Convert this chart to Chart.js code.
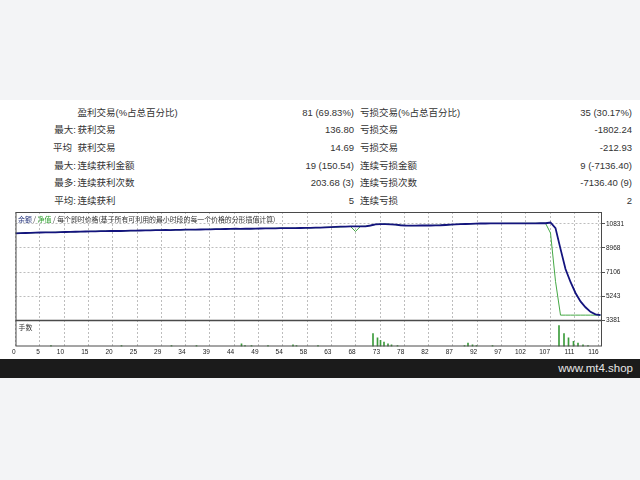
<!DOCTYPE html>
<html>
<head>
<meta charset="utf-8">
<script src="https://cdn.jsdelivr.net/npm/chart.js@4.4.1/dist/chart.umd.min.js"></script>
<style>
  html, body { margin: 0; padding: 0; }
  body { width: 640px; height: 480px; background: #f3f4f6; position: relative; overflow: hidden;
         font-family: 'Liberation Sans', 'Noto Sans CJK SC', sans-serif; }
  #sheet { position: absolute; left: 0; top: 100px; width: 640px; height: 259px; background: #fff; }
  .cell { position: absolute; white-space: pre; font-size: 9.5px; line-height: 12px; color: #333; }
  #chartBox { position: absolute; left: 0; top: 200px; width: 640px; height: 160px; }
  #footer { position: absolute; left: 0; top: 359px; width: 640px; height: 19px; background: #1b1b1b; }
  #footer span { position: absolute; right: 7px; top: 0; line-height: 19px; color: #e6e6e6; font-size: 11.5px; }
</style>
</head>
<body>
<div id="sheet"></div>
<div id="stats"></div>
<div id="chartBox"><canvas id="tester" width="640" height="160"></canvas></div>
<div id="footer"><span>www.mt4.shop</span></div>
<script>
// statistics table
const rowPrefix = ['', '最大:', '平均', '最大:', '最多:', '平均:'];
const winLabels = ['盈利交易(%占总百分比)', '获利交易', '获利交易', '连续获利金额', '连续获利次数', '连续获利'];
const winValues = ['81 (69.83%)', '136.80', '14.69', '19 (150.54)', '203.68 (3)', '5'];
const lossLabels = ['亏损交易(%占总百分比)', '亏损交易', '亏损交易', '连续亏损金额', '连续亏损次数', '连续亏损'];
const lossValues = ['35 (30.17%)', '-1802.24', '-212.93', '9 (-7136.40)', '-7136.40 (9)', '2'];

// tester graph
const xTickLabels = ['0','5','10','15','20','25','29','34','39','44','49','54','58','63','68','73','78','82','87','92','97','102','107','111','116'];
const yTickValues = [3381, 5243, 7106, 8968, 10831];

const balance = [
  10100,10112,10124,10136,10148,10160,10172,10165,10178,10190,
  10200,10210,10220,10228,10236,10244,10252,10260,10268,10276,
  10284,10278,10290,10298,10306,10314,10322,10330,10338,10346,
  10354,10350,10362,10370,10378,10386,10380,10392,10400,10408,
  10416,10424,10432,10440,10448,10440,10452,10448,10460,10468,
  10474,10480,10486,10492,10498,10494,10500,10508,10516,10524,
  10532,10540,10560,10580,10600,10612,10620,10625,10630,10635,
  10640,10700,10780,10800,10810,10790,10760,10720,10700,10690,
  10695,10700,10705,10700,10710,10720,10740,10760,10780,10800,
  10815,10830,10845,10855,10855,10858,10860,10860,10862,10864,
  10866,10866,10868,10870,10870,10872,10874,10931,10500,8900,
  7350,6350,5500,4850,4400,4050,3860,3795
];
const equity = [
  10100,10112,10124,10136,10148,10160,10172,10165,10178,10190,
  10200,10210,10220,10228,10236,10244,10252,10260,10268,10276,
  10284,10278,10290,10298,10306,10314,10322,10330,10338,10346,
  10354,10350,10362,10370,10378,10386,10380,10392,10400,10408,
  10416,10424,10432,10440,10448,10440,10452,10448,10460,10468,
  10474,10480,10486,10492,10498,10494,10500,10508,10516,10524,
  10532,10540,10560,10560,10570,10590,10620,10625,10238,10635,
  10640,10700,10780,10800,10810,10790,10760,10720,10700,10690,
  10695,10700,10705,10700,10710,10720,10740,10760,10780,10800,
  10815,10830,10845,10855,10855,10858,10860,10860,10862,10864,
  10866,10866,10868,10870,10870,10872,10874,10120,6400,3795,
  3795,3795,3795,3795,3795,3795,3795,3795
];
// lots per trade (bottom panel)
const lotTrades = [7.1, 21.2, 31.2, 36.2, 45.2, 45.9, 47.2, 50.5, 55.5, 56.2, 60.5,
  71.5, 72.4, 73.0, 73.7, 74.5, 75.2, 76.4,
  89.8, 90.5, 91.4, 92.2, 95.4,
  108.7, 109.7, 110.6, 111.6, 112.5, 113.5, 114.5];
const lotSizes = [0.01, 0.01, 0.01, 0.01, 0.03, 0.01, 0.01, 0.01, 0.02, 0.01, 0.01,
  0.15, 0.10, 0.07, 0.05, 0.03, 0.02, 0.01,
  0.01, 0.04, 0.02, 0.01, 0.01,
  0.24, 0.15, 0.10, 0.06, 0.04, 0.02, 0.01];

const titleParts = [
  ['余额', '#23327a'],
  [' / ', '#333'],
  ['净值', '#2ea02e'],
  [' / 每个即时价格(基于所有可利用的最小时段的每一个价格的分形插值计算)', '#333']
];

// build the table
const stats = document.getElementById('stats');
function addCell(text, top, side, pos) {
  const s = document.createElement('span');
  s.className = 'cell';
  s.textContent = text;
  s.style.top = top + 'px';
  s.style[side] = pos + 'px';
  stats.appendChild(s);
}
rowPrefix.forEach((p, r) => {
  const top = 106.5 + r * 17.7;
  if (p) addCell(p, top, 'right', 640 - (p.endsWith(':') ? 76 : 72));
  addCell(winLabels[r], top, 'left', 77.5);
  addCell(winValues[r], top, 'right', 640 - 354);
  addCell(lossLabels[r], top, 'left', 360);
  addCell(lossValues[r], top, 'right', 640 - 632);
});

Chart.defaults.font.family = "'Liberation Sans', 'Noto Sans CJK SC', sans-serif";

// frame, panel separator and panel captions
const panelFrame = {
  id: 'panelFrame',
  afterDraw(chart) {
    const { ctx, chartArea: a, scales } = chart;
    ctx.save();
    ctx.strokeStyle = '#4a4a4a';
    ctx.lineWidth = 1;
    ctx.strokeRect(a.left + 0.5, a.top + 0.5, a.right - a.left - 1, a.bottom - a.top - 1);
    const sep = scales.y.bottom;
    ctx.lineWidth = 1.5;
    ctx.beginPath();
    ctx.moveTo(a.left, sep);
    ctx.lineTo(a.right, sep);
    ctx.stroke();

    ctx.font = '6.9px "Noto Sans CJK SC"';
    ctx.textBaseline = 'middle';
    let x = a.left + 2.5;
    titleParts.forEach(([txt, col]) => {
      ctx.fillStyle = col;
      ctx.fillText(txt, x, a.top + 7);
      x += ctx.measureText(txt).width;
    });
    ctx.fillStyle = '#333';
    ctx.fillText('手数', a.left + 3, sep + 6.5);
    ctx.restore();
  }
};

const xGridStep = 4.86;

new Chart(document.getElementById('tester'), {
  type: 'line',
  data: {
    datasets: [{
      label: '余额',
      data: balance.map((v, i) => ({ x: i, y: v })),
      borderColor: '#14147e',
      borderWidth: 1.8,
      pointRadius: 0,
      yAxisID: 'y'
    }, {
      label: '净值',
      data: equity.map((v, i) => ({ x: i, y: v })),
      borderColor: '#45a845',
      borderWidth: 1,
      pointRadius: 0,
      yAxisID: 'y'
    }, {
      type: 'bar',
      label: '手数',
      data: lotTrades.map((t, i) => ({ x: t, y: lotSizes[i] })),
      backgroundColor: '#3c9c3c',
      barThickness: 1,
      yAxisID: 'y2'
    }]
  },
  options: {
    responsive: false,
    animation: false,
    layout: { padding: { left: 15.5, top: 12, right: 0, bottom: 0 } },
    plugins: { legend: { display: false }, tooltip: { enabled: false } },
    scales: {
      x: {
        type: 'linear',
        offset: false,
        min: 0,
        max: 117.3,
        afterBuildTicks: (s) => { s.ticks = xTickLabels.map((t, k) => ({ value: k * xGridStep })); },
        afterFit: (s) => { s.height = 13.5; },
        ticks: {
          autoSkip: false,
          maxRotation: 0,
          align: 'end',
          padding: 2,
          color: '#222',
          font: { size: 6.5 },
          callback: (v, i) => xTickLabels[i]
        },
        grid: { offset: false, color: '#bdbdbd', drawTicks: false },
        border: { display: false, dash: [2, 2] }
      },
      y: {
        type: 'linear',
        position: 'right',
        stack: 'tester',
        stackWeight: 108.5,
        min: 3381,
        max: 11740,
        afterBuildTicks: (s) => { s.ticks = yTickValues.map(v => ({ value: v })); },
        afterFit: (s) => { s.width = 38; },
        ticks: {
          padding: 1,
          color: '#222',
          font: { size: 6.5 },
          callback: (v) => String(v)
        },
        grid: { color: '#bdbdbd', tickColor: '#555', tickLength: 3, tickBorderDash: [] },
        border: { display: false, dash: [2, 2] }
      },
      y2: {
        type: 'linear',
        position: 'right',
        stack: 'tester',
        stackWeight: 26,
        min: 0,
        max: 0.30,
        ticks: { display: false },
        grid: { display: false },
        border: { display: false }
      }
    }
  },
  plugins: [panelFrame]
});
</script>
</body>
</html>
